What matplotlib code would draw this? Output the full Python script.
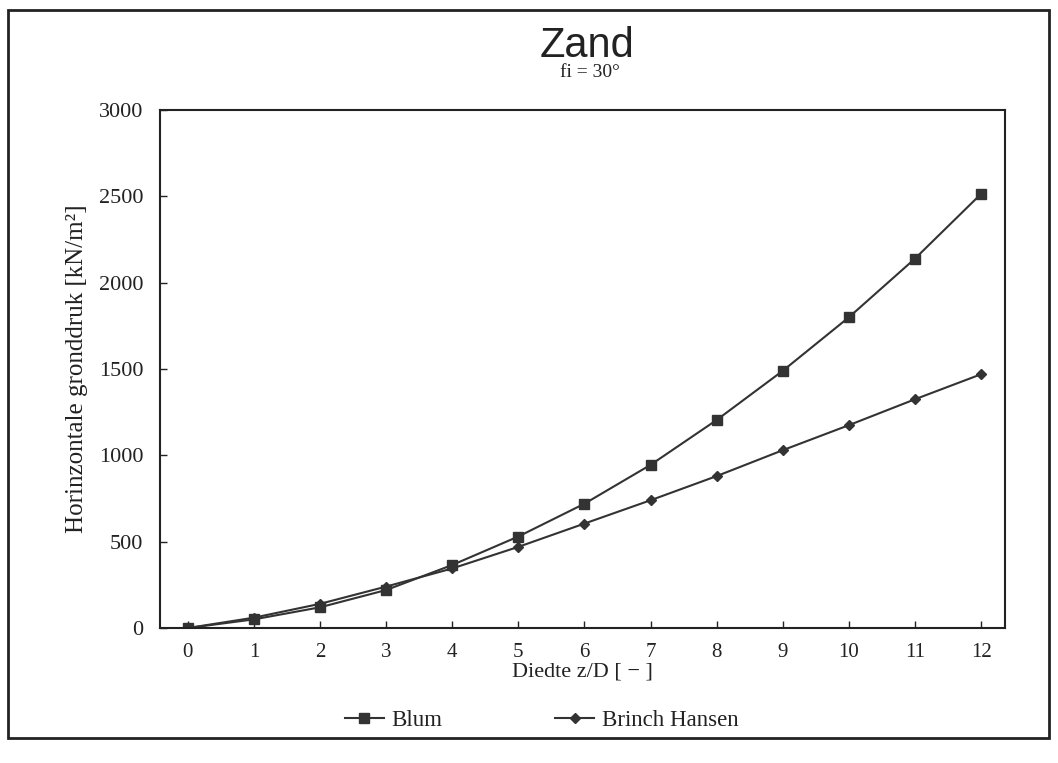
import numpy as np
import matplotlib.pyplot as plt
from matplotlib.patches import Rectangle

# diepte z/D
depth = [0, 1, 2, 3, 4, 5, 6, 7, 8, 9, 10, 11, 12]
# horizontale gronddruk [kN/m2]
blum = [0, 50, 120, 220, 365, 530, 720, 945, 1205, 1490, 1800, 2140, 2515]
brinch_hansen = [0, 60, 140, 240, 345, 470, 605, 740, 880, 1030, 1175, 1325, 1470]

plt.rcParams['font.family'] = ['Liberation Serif', 'DejaVu Serif']

fig = plt.figure(figsize=(10.58, 7.63), dpi=100)
ax = fig.add_axes([0.1512, 0.1769, 0.7987, 0.6789])

col = '#333333'
ax.plot(depth, blum, color=col, linewidth=1.5, marker='s', markersize=7,
        label='Blum')
ax.plot(depth, brinch_hansen, color=col, linewidth=1.5, marker='D',
        markersize=5, label='Brinch Hansen')

ax.set_xlim(-0.42, 12.36)
ax.set_ylim(0, 3000)
ax.set_xticks(range(0, 13))
ax.set_yticks(range(0, 3001, 500))
ax.tick_params(direction='in', length=5, width=1, pad=12, colors='#222222')
ax.tick_params(axis='y', labelsize=16)
ax.tick_params(axis='x', labelsize=15, pad=11)
for s in ax.spines.values():
    s.set_linewidth(1.5)
    s.set_color('#222222')

ax.set_xlabel('Diedte z/D [ − ]', fontsize=16, labelpad=0, color='#222222')
ax.set_ylabel('Horinzontale gronddruk [kN/m²]', fontsize=18, labelpad=8,
              color='#222222')

fig.text(0.555, 0.94, 'Zand', ha='center', va='center', fontsize=30,
         family='Liberation Sans', color='#222222')
fig.text(0.558, 0.905, 'fi = 30°', ha='center', va='center', fontsize=14,
         color='#222222')

fig.legend(loc='center', bbox_to_anchor=(0.512, 0.056), ncol=2,
           frameon=False, fontsize=16.5, handlelength=1.7, columnspacing=4.9,
           handletextpad=0.35, labelcolor='#222222')

# outer frame
fig.patches.append(Rectangle((0.0076, 0.033), 0.984, 0.954,
                             transform=fig.transFigure, fill=False,
                             edgecolor='#222222', linewidth=2))

fig.savefig('out.png', dpi=100)
